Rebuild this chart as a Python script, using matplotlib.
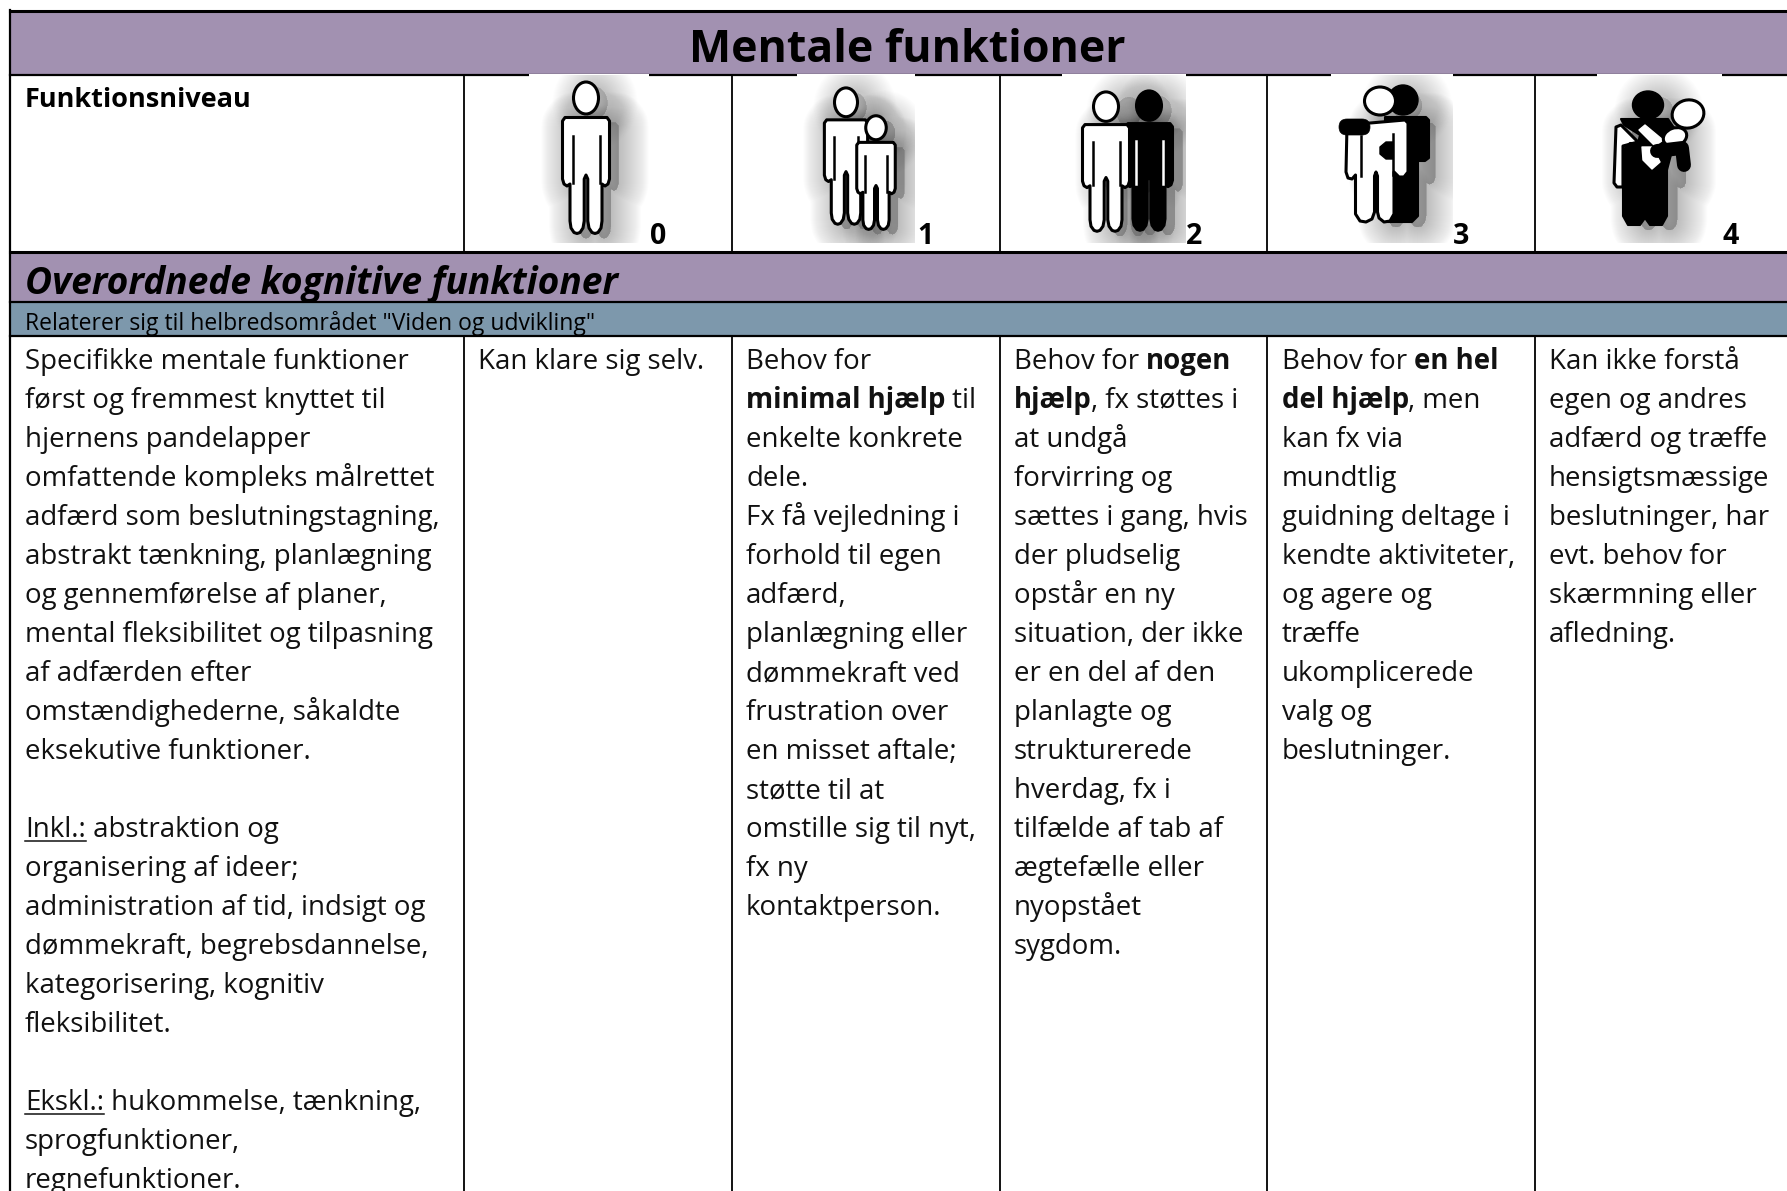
import matplotlib
matplotlib.use('Agg')
import matplotlib.pyplot as plt
from matplotlib.patches import Rectangle, Ellipse, Polygon, FancyBboxPatch
from matplotlib.lines import Line2D

plt.rcParams['font.family'] = ['Open Sans', 'DejaVu Sans']

W, H = 1787, 1191
PURPLE = '#a291b1'
BLUE = '#7d98ac'

title = 'Mentale funktioner'
level_label = 'Funktionsniveau'
levels = ['0', '1', '2', '3', '4']
section = 'Overordnede kognitive funktioner'
relation = 'Relaterer sig til helbredsområdet "Viden og udvikling"'

# **fed** og __understreget__
col_desc = [
    'Specifikke mentale funktioner', 'først og fremmest knyttet til', 'hjernens pandelapper',
    'omfattende kompleks målrettet', 'adfærd som beslutningstagning,', 'abstrakt tænkning, planlægning',
    'og gennemførelse af planer,', 'mental fleksibilitet og tilpasning', 'af adfærden efter',
    'omstændighederne, såkaldte', 'eksekutive funktioner.', '',
    '__Inkl.:__ abstraktion og', 'organisering af ideer;', 'administration af tid, indsigt og',
    'dømmekraft, begrebsdannelse,', 'kategorisering, kognitiv', 'fleksibilitet.', '',
    '__Ekskl.:__ hukommelse, tænkning,', 'sprogfunktioner,', 'regnefunktioner.',
]
col_0 = ['Kan klare sig selv.']
col_1 = [
    'Behov for', '**minimal hjælp** til', 'enkelte konkrete', 'dele.', 'Fx få vejledning i',
    'forhold til egen', 'adfærd,', 'planlægning eller', 'dømmekraft ved', 'frustration over',
    'en misset aftale;', 'støtte til at', 'omstille sig til nyt,', 'fx ny', 'kontaktperson.',
]
col_2 = [
    'Behov for **nogen**', '**hjælp**, fx støttes i', 'at undgå', 'forvirring og', 'sættes i gang, hvis',
    'der pludselig', 'opstår en ny', 'situation, der ikke', 'er en del af den', 'planlagte og',
    'strukturerede', 'hverdag, fx i', 'tilfælde af tab af', 'ægtefælle eller', 'nyopstået', 'sygdom.',
]
col_3 = [
    'Behov for **en hel**', '**del hjælp**, men', 'kan fx via', 'mundtlig', 'guidning deltage i',
    'kendte aktiviteter,', 'og agere og', 'træffe', 'ukomplicerede', 'valg og', 'beslutninger.',
]
col_4 = [
    'Kan ikke forstå', 'egen og andres', 'adfærd og træffe', 'hensigtsmæssige', 'beslutninger, har',
    'evt. behov for', 'skærmning eller', 'afledning.',
]

columns = [col_desc, col_0, col_1, col_2, col_3, col_4]
col_x = [10, 464, 732, 1000, 1267, 1535]
text_x = [25, 478, 746, 1014, 1282, 1549]
digit_x = [658, 925, 1194, 1461, 1731]
icon_box = [(529, 649), (797, 915), (1062, 1186), (1331, 1453), (1597, 1722)]

fig = plt.figure(figsize=(W / 100, H / 100), dpi=100)
ax = fig.add_axes([0, 0, 1, 1])
ax.set_xlim(0, W)
ax.set_ylim(H, 0)
ax.axis('off')

# baggrund for rækkerne
ax.add_patch(Rectangle((11, 11), W, 64, fc=PURPLE, ec='none'))
ax.add_patch(Rectangle((11, 252), W, 50, fc=PURPLE, ec='none'))
ax.add_patch(Rectangle((11, 302), W, 34, fc=BLUE, ec='none'))

# linjer
for y, lw in [(10.5, 2.2), (75, 1.6), (252, 2.2), (302, 1.6), (336, 1.6)]:
    ax.add_line(Line2D([10, W], [y, y], color='k', lw=lw))
ax.add_line(Line2D([10, 10], [10, H], color='k', lw=1.6))
for x in col_x[1:]:
    ax.add_line(Line2D([x, x], [75, 252], color='k', lw=1.3))
    ax.add_line(Line2D([x, x], [336, H], color='k', lw=1.3))

OUTLINE = [(-23.5, 40), (-23.5, 98), (-22, 103), (-19, 105), (-16, 103), (-16, 140), (-15, 147), (-12, 151.5),
           (-9, 152.5), (-6, 151.5), (-3, 147), (-1.8, 140), (-1.8, 98), (0, 94), (1.8, 98), (1.8, 140), (3, 147),
           (6, 151.5), (9, 152.5), (12, 151.5), (15, 147), (16, 140), (16, 103), (19, 105), (22, 103), (23.5, 98),
           (23.5, 40), (21, 36.5), (-21, 36.5)]
STROKE = 2.2


def person(cx, top, sx=1.0, sy=1.0, fc='white', z=3.0):
    pts = [(cx + a * sx, top + b * sy) for a, b in OUTLINE]
    ax.add_patch(Polygon(pts, closed=True, fc=fc, ec='k', lw=STROKE, joinstyle='round', zorder=z))
    ax.add_patch(Ellipse((cx, top + 17 * sy), 25 * sx, 32 * sy, fc=fc, ec='k', lw=STROKE, zorder=z))
    line_col = 'k' if fc == 'white' else 'white'
    for side in (-1, 1):
        ax.add_line(Line2D([cx + side * 13.5 * sx] * 2, [top + 55 * sy, top + 102 * sy], color=line_col,
                           lw=1.8, zorder=z + 0.01))


def shadow(cx, top, sx, sy, box):
    clip = Rectangle((box[0], 75), box[1] - box[0], 168, transform=ax.transData)
    pts = [(cx + 9 + a * sx, top + 5 + b * sy) for a, b in OUTLINE]
    for lw in range(60, 1, -2):
        p = Polygon(pts, closed=True, fc='#444444', ec='#444444', lw=lw * 0.72, alpha=0.013, zorder=2.5,
                    joinstyle='round')
        ax.add_patch(p)
        p.set_clip_path(clip)
        e = Ellipse((cx + 9, top + 5 + 17 * sy), 25 * sx, 32 * sy, fc='#444444', ec='#444444', lw=lw * 0.72,
                    alpha=0.008, zorder=2.5)
        ax.add_patch(e)
        e.set_clip_path(clip)


def stadium(x0, y0, x1, y1, fc='k', z=3.5):
    r = min(x1 - x0, y1 - y0) / 2
    ax.add_patch(FancyBboxPatch((x0 + r, y0 + r), x1 - x0 - 2 * r, y1 - y0 - 2 * r,
                                boxstyle='round,pad=%f,rounding_size=%f' % (r, r), fc=fc, ec='k', lw=0.5, zorder=z))


# hvide felter fra billederne dækker stregen foroven
for box in icon_box:
    ax.add_patch(Rectangle((box[0], 74), box[1] - box[0], 169, fc='white', ec='none', zorder=2.2))

# niveau 0
shadow(586, 81, 1.0, 1.0, icon_box[0])
person(586, 81)

# niveau 1
shadow(846, 87, 0.92, 0.9, icon_box[1])
shadow(876, 115, 0.82, 0.75, icon_box[1])
person(846, 87, 0.92, 0.9, z=3.0)
person(876, 115, 0.82, 0.75, z=3.2)

# niveau 2
shadow(1120, 91, 1.0, 0.92, icon_box[2])
shadow(1150, 90, 1.0, 0.92, icon_box[2])
person(1149, 90, 1.0, 0.92, fc='k', z=3.0)
person(1106, 91, 1.0, 0.92, z=3.2)

# niveau 3, sort bagved, hvid foran med arm om skulderen
shadow(1398, 85, 1.2, 0.9, icon_box[3])
ax.add_patch(Polygon([(1385, 117), (1426, 117), (1429, 120), (1429, 158), (1425, 161), (1418, 161), (1418, 216),
                      (1412, 222), (1405, 222), (1385, 222)], closed=True, fc='k', ec='k', lw=1.5,
                     joinstyle='round', zorder=3.0))
ax.add_patch(Ellipse((1403, 100), 30, 30, fc='k', ec='k', zorder=3.0))
ax.add_patch(Ellipse((1380, 101), 31, 28, fc='white', ec='k', lw=STROKE, zorder=3.4))
white3 = [(1347, 125), (1405, 120), (1408, 123), (1408, 172), (1404, 177), (1399, 177), (1394, 172), (1394, 214),
          (1390, 221), (1384, 222), (1379, 218), (1377.5, 212), (1377.5, 176), (1376, 172), (1374.5, 176),
          (1374.5, 212), (1372, 219), (1366, 222), (1360, 221), (1355.5, 214), (1355.5, 175), (1352, 179),
          (1348, 178), (1346, 172)]
ax.add_patch(Polygon(white3, closed=True, fc='white', ec='k', lw=STROKE, joinstyle='round', zorder=3.2))
ax.add_line(Line2D([1393, 1393], [134, 175], color='k', lw=1.8, zorder=3.3))
ax.add_line(Line2D([1361, 1361], [136, 176], color='k', lw=1.8, zorder=3.3))
stadium(1339, 119, 1370, 135)
ax.add_patch(Polygon([(1393, 142), (1386, 142), (1380, 147), (1380, 154), (1386, 159), (1393, 159)], closed=True,
                     fc='k', ec='k', joinstyle='round', zorder=3.5))

# niveau 4, sort figur der bærer en hvid
shadow(1650, 91, 1.15, 0.88, icon_box[4])
ax.add_patch(Polygon([(1616, 127), (1621, 125), (1638, 142), (1623, 146), (1623, 187), (1617, 187), (1614, 183)],
                     closed=True, fc='white', ec='k', lw=STROKE, joinstyle='round', zorder=3.0))
ax.add_patch(Polygon([(1621, 119), (1668, 119), (1677, 132), (1667, 170), (1667, 216), (1662, 225), (1650, 225),
                      (1645, 218), (1640, 225), (1628, 225), (1623, 216), (1623, 150), (1630, 143), (1638, 143),
                      (1640, 135), (1624, 125)], closed=True, fc='k', ec='k', lw=1.5, joinstyle='round', zorder=3.1))
ax.add_patch(Ellipse((1648, 105), 31, 28, fc='k', ec='k', zorder=3.1))
ax.add_patch(Polygon([(1639, 130), (1645, 125), (1663, 140), (1655, 146)], closed=True, fc='white', ec='white',
                     lw=1, joinstyle='round', zorder=3.3))
ax.add_patch(Polygon([(1642, 147), (1652, 147), (1660, 162), (1652, 169), (1643, 160)], closed=True, fc='white',
                     ec='white', lw=1, joinstyle='round', zorder=3.3))
ax.add_patch(Ellipse((1675, 137), 24, 18, angle=-20, fc='white', ec='k', lw=STROKE, zorder=3.35))
ax.add_line(Line2D([1657, 1682, 1684], [151, 148, 165], color='k', lw=10, solid_capstyle='round',
                   solid_joinstyle='round', zorder=3.45))
ax.add_patch(Ellipse((1688, 114), 32, 28, angle=-15, fc='white', ec='k', lw=STROKE, zorder=3.5))

# tekster
ax.text(907, 50, title, fontsize=32.2, fontweight='bold', ha='center', va='center')
ax.text(25, 100, level_label, fontsize=19.5, fontweight='bold', va='center')
ax.text(25, 284, section, fontsize=26.7, fontweight='bold', style='italic', va='center')
ax.text(25, 323, relation, fontsize=16.5, va='center')
for s, x in zip(levels, digit_x):
    ax.text(x, 236, s, fontsize=20.5, fontweight='bold', ha='center', va='center', zorder=5)

BODY = 19.9
LINE_H = 39.0
FIRST = 369
renderer = fig.canvas.get_renderer()


def advance(s, weight):
    # bredden uden at miste mellemrum i enderne
    t1 = ax.text(0, 0, 'x' + s + 'x', fontsize=BODY, fontweight=weight)
    t2 = ax.text(0, 0, 'xx', fontsize=BODY, fontweight=weight)
    w = t1.get_window_extent(renderer).width - t2.get_window_extent(renderer).width
    t1.remove()
    t2.remove()
    return w


def parse(line):
    runs = []
    for i, part in enumerate(line.split('**')):
        for j, sub in enumerate(part.split('__')):
            if sub:
                runs.append((sub, i % 2 == 1, j % 2 == 1))
    return runs


for x0, lines in zip(text_x, columns):
    for n, line in enumerate(lines):
        y = FIRST + n * LINE_H
        x = x0
        for s, bold, under in parse(line):
            weight = 'bold' if bold else 'normal'
            ax.text(x, y, s, fontsize=BODY, fontweight=weight, va='baseline', color='#111111')
            w = advance(s, weight)
            if under:
                ax.add_line(Line2D([x, x + w], [y + 4, y + 4], color='#111111', lw=1.1))
            x += w

fig.savefig('out.png', dpi=100, facecolor='white')
